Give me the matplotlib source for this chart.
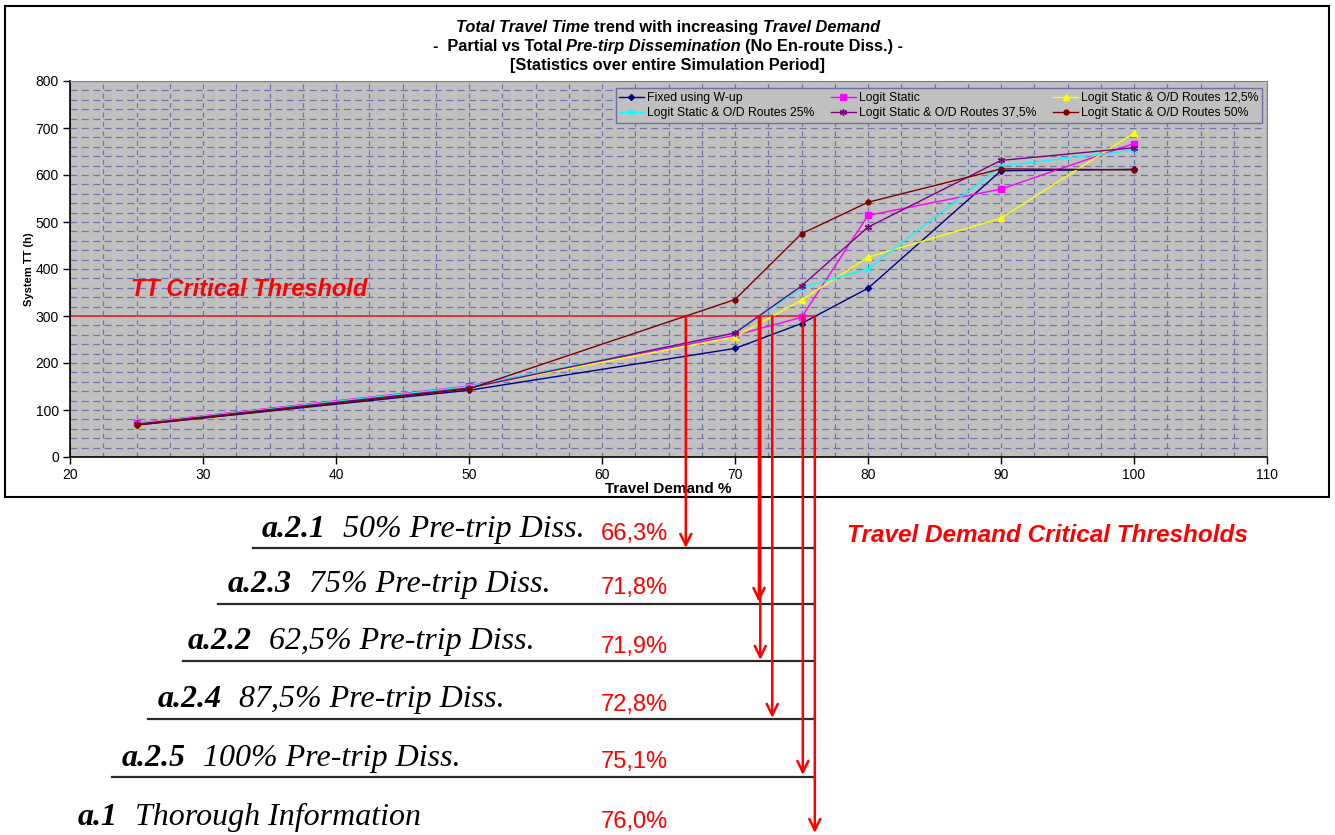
import matplotlib
matplotlib.use("Agg")
import matplotlib.pyplot as plt
from matplotlib.patches import Rectangle

plt.rcParams['font.family'] = ['Liberation Sans', 'DejaVu Sans']
plt.rcParams['lines.scale_dashes'] = False

# Travel demand levels (%) and system total travel time (h) per strategy
demand = [25, 50, 70, 75, 80, 90, 100]
fixed_wup = [68, 142, 231, 284, 359, 609, 612]
logit_static = [72, 151, 259, 297, 514, 570, 667]
od_12_5 = [71, 148, 255, 334, 425, 508, 689]
od_25 = [70, 150, 263, 360, 400, 619, 653]
od_37_5 = [70, 147, 264, 364, 489, 631, 658]
od_50 = [68, 145, 335, 475, 542, 613, 611]

tt_threshold = 300

# demand value at which each scenario reaches the TT threshold
scenario_ids = ['a.2.1', 'a.2.3', 'a.2.2', 'a.2.4', 'a.2.5', 'a.1']
scenario_names = ['50% Pre-trip Diss.', '75% Pre-trip Diss.', '62,5% Pre-trip Diss.',
                  '87,5% Pre-trip Diss.', '100% Pre-trip Diss.', 'Thorough Information']
critical_demand = [66.3, 71.8, 71.9, 72.8, 75.1, 76.0]

W, H = 1335, 835
fig = plt.figure(figsize=(W / 100, H / 100), dpi=100)


def px_box(l, t, r, b):
    return [l / W, 1 - b / H, (r - l) / W, (b - t) / H]


ax = fig.add_axes(px_box(70, 81, 1267, 457))
ax.set_facecolor('#c0c0c0')

series = [
    ('Fixed using W-up', fixed_wup, '#000080', 'D', 3),
    ('Logit Static', logit_static, '#ff00ff', 's', 4),
    ('Logit Static & O/D Routes 12,5%', od_12_5, '#ffff00', '^', 4.5),
    ('Logit Static & O/D Routes 25%', od_25, '#00ffff', 'x', 4.5),
    ('Logit Static & O/D Routes 37,5%', od_37_5, '#800080', (6, 2, 0), 5),
    ('Logit Static & O/D Routes 50%', od_50, '#800000', 'o', 3.5),
]
handles = {}
for name, vals, col, mk, ms in series:
    h, = ax.plot(demand, vals, color=col, lw=1.0, marker=mk, markersize=ms,
                 markeredgecolor=col, markerfacecolor=col, label=name, zorder=3)
    handles[name] = h

# threshold line up to the last critical demand
ax.hlines(tt_threshold, 20, critical_demand[-1], color='#e03030', lw=1.3, zorder=2)

ax.set_xlim(20, 110)
ax.set_ylim(0, 800)
ax.set_xticks(range(20, 111, 10))
ax.set_yticks(range(0, 801, 100))
ax.set_xticks([v / 2 for v in range(40, 221, 5)], minor=True)
ax.set_yticks(range(0, 801, 20), minor=True)
ax.tick_params(which='minor', length=0)
ax.tick_params(which='major', length=5, width=1, labelsize=10, pad=3)
ax.grid(True, which='both', axis='y', color='#7474aa', lw=0.9, linestyle=(0, (5, 3.2)))
ax.grid(True, which='both', axis='x', color='#7474aa', lw=0.9, linestyle=(0, (3.5, 3.3)))
ax.set_axisbelow(True)
for s in ['top', 'right']:
    ax.spines[s].set_color('#808080')
for s in ['left', 'bottom']:
    ax.spines[s].set_color('black')
    ax.spines[s].set_linewidth(1.2)

ax.set_ylabel('System TT (h)', fontsize=8, fontweight='bold', labelpad=1)
ax.set_xlabel('Travel Demand %', fontsize=11, fontweight='bold', labelpad=0)

order = ['Fixed using W-up', 'Logit Static & O/D Routes 25%',
         'Logit Static', 'Logit Static & O/D Routes 37,5%',
         'Logit Static & O/D Routes 12,5%', 'Logit Static & O/D Routes 50%']
leg = ax.legend([handles[n] for n in order], order, ncol=3, fontsize=8.8,
                loc='upper right', bbox_to_anchor=(0.9958, 0.981),
                frameon=True, fancybox=False, handlelength=2.0,
                handletextpad=0.25, borderpad=0.3, labelspacing=0.3,
                columnspacing=1.4, borderaxespad=0)
leg.get_frame().set_facecolor('#c0c0c0')
leg.get_frame().set_edgecolor('#6e6ea8')
leg.get_frame().set_alpha(1)

ax.text(24.6, 342, 'TT Critical Threshold', color='#ff0000', fontsize=17,
        fontweight='bold', fontstyle='italic', va='baseline')

# overlay in pixel coordinates for the annotations below the chart
ov = fig.add_axes([0, 0, 1, 1])
ov.set_xlim(0, W)
ov.set_ylim(H, 0)
ov.axis('off')
renderer = fig.canvas.get_renderer()


def to_px(xv, yv):
    return ov.transData.inverted().transform(ax.transData.transform((xv, yv)))


def rich_text(x, y, parts, ha='left', **common):
    arts = []
    gaps = []
    for s, props in parts:
        lead = len(s) - len(s.lstrip(' '))
        trail = len(s) - len(s.rstrip(' '))
        t = ov.text(0, y, s.strip(' '), va='baseline', ha='left', **common, **props)
        sp = t.get_fontsize() * 100 / 72 * 0.27
        arts.append(t)
        gaps.append((lead * sp, trail * sp))
    widths = [a.get_window_extent(renderer).width for a in arts]
    total = sum(widths) + sum(g[0] + g[1] for g in gaps)
    x0 = x - total / 2 if ha == 'center' else x
    for a, w, g in zip(arts, widths, gaps):
        x0 += g[0]
        a.set_x(x0)
        x0 += w + g[1]
    return x0


bi = dict(fontweight='bold', fontstyle='italic')
b = dict(fontweight='bold')
rich_text(668, 32, [('Total Travel Time', bi), (' trend with increasing ', b),
                    ('Travel Demand', bi)], ha='center', fontsize=11.8)
rich_text(668, 51, [('-  Partial vs Total ', b), ('Pre-tirp Dissemination', bi),
                    (' (No En-route Diss.) -', b)], ha='center', fontsize=11.8)
rich_text(668, 70, [('[Statistics over entire Simulation Period]', b)],
          ha='center', fontsize=11.8)

# frame round the chart
ov.add_patch(Rectangle((5, 6), 1324, 491, fill=False, ec='black', lw=1.5))

label_x = [262, 228, 188, 158, 122, 78]
label_base = [537, 592, 649, 707, 766, 825]
pct_base = [540, 594, 653, 711, 768, 828]
line_y = [548, 604, 661, 719, 777]
line_x0 = [253, 218, 183, 148, 112]
tip_y = [548, 602, 660, 718, 775, 833]

x_end = to_px(critical_demand[-1], tt_threshold)[0]
for i, (sid, name, val) in enumerate(zip(scenario_ids, scenario_names, critical_demand)):
    rich_text(label_x[i], label_base[i],
              [(sid + '  ', dict(fontweight='bold', fontstyle='italic')),
               (name, dict(fontstyle='italic'))],
              family='Liberation Serif', fontsize=23)
    ov.text(601, pct_base[i], f'{val:.1f}%'.replace('.', ','), color='#ff0000',
            fontsize=17, va='baseline', ha='left')
    if i < len(line_y):
        ov.plot([line_x0[i], x_end], [line_y[i], line_y[i]], color='#2a2a2a', lw=1.6)
    px, py = to_px(val, tt_threshold)
    ov.annotate('', xy=(px, tip_y[i]), xytext=(px, py),
                arrowprops=dict(arrowstyle='->,head_length=0.45,head_width=0.22',
                                color='#ff0000', lw=1.8, shrinkA=0, shrinkB=0,
                                mutation_scale=18))

ov.text(847, 542, 'Travel Demand Critical Thresholds', color='#ff0000',
        fontsize=17.5, fontweight='bold', fontstyle='italic', va='baseline')

fig.savefig('out.png', dpi=100)
